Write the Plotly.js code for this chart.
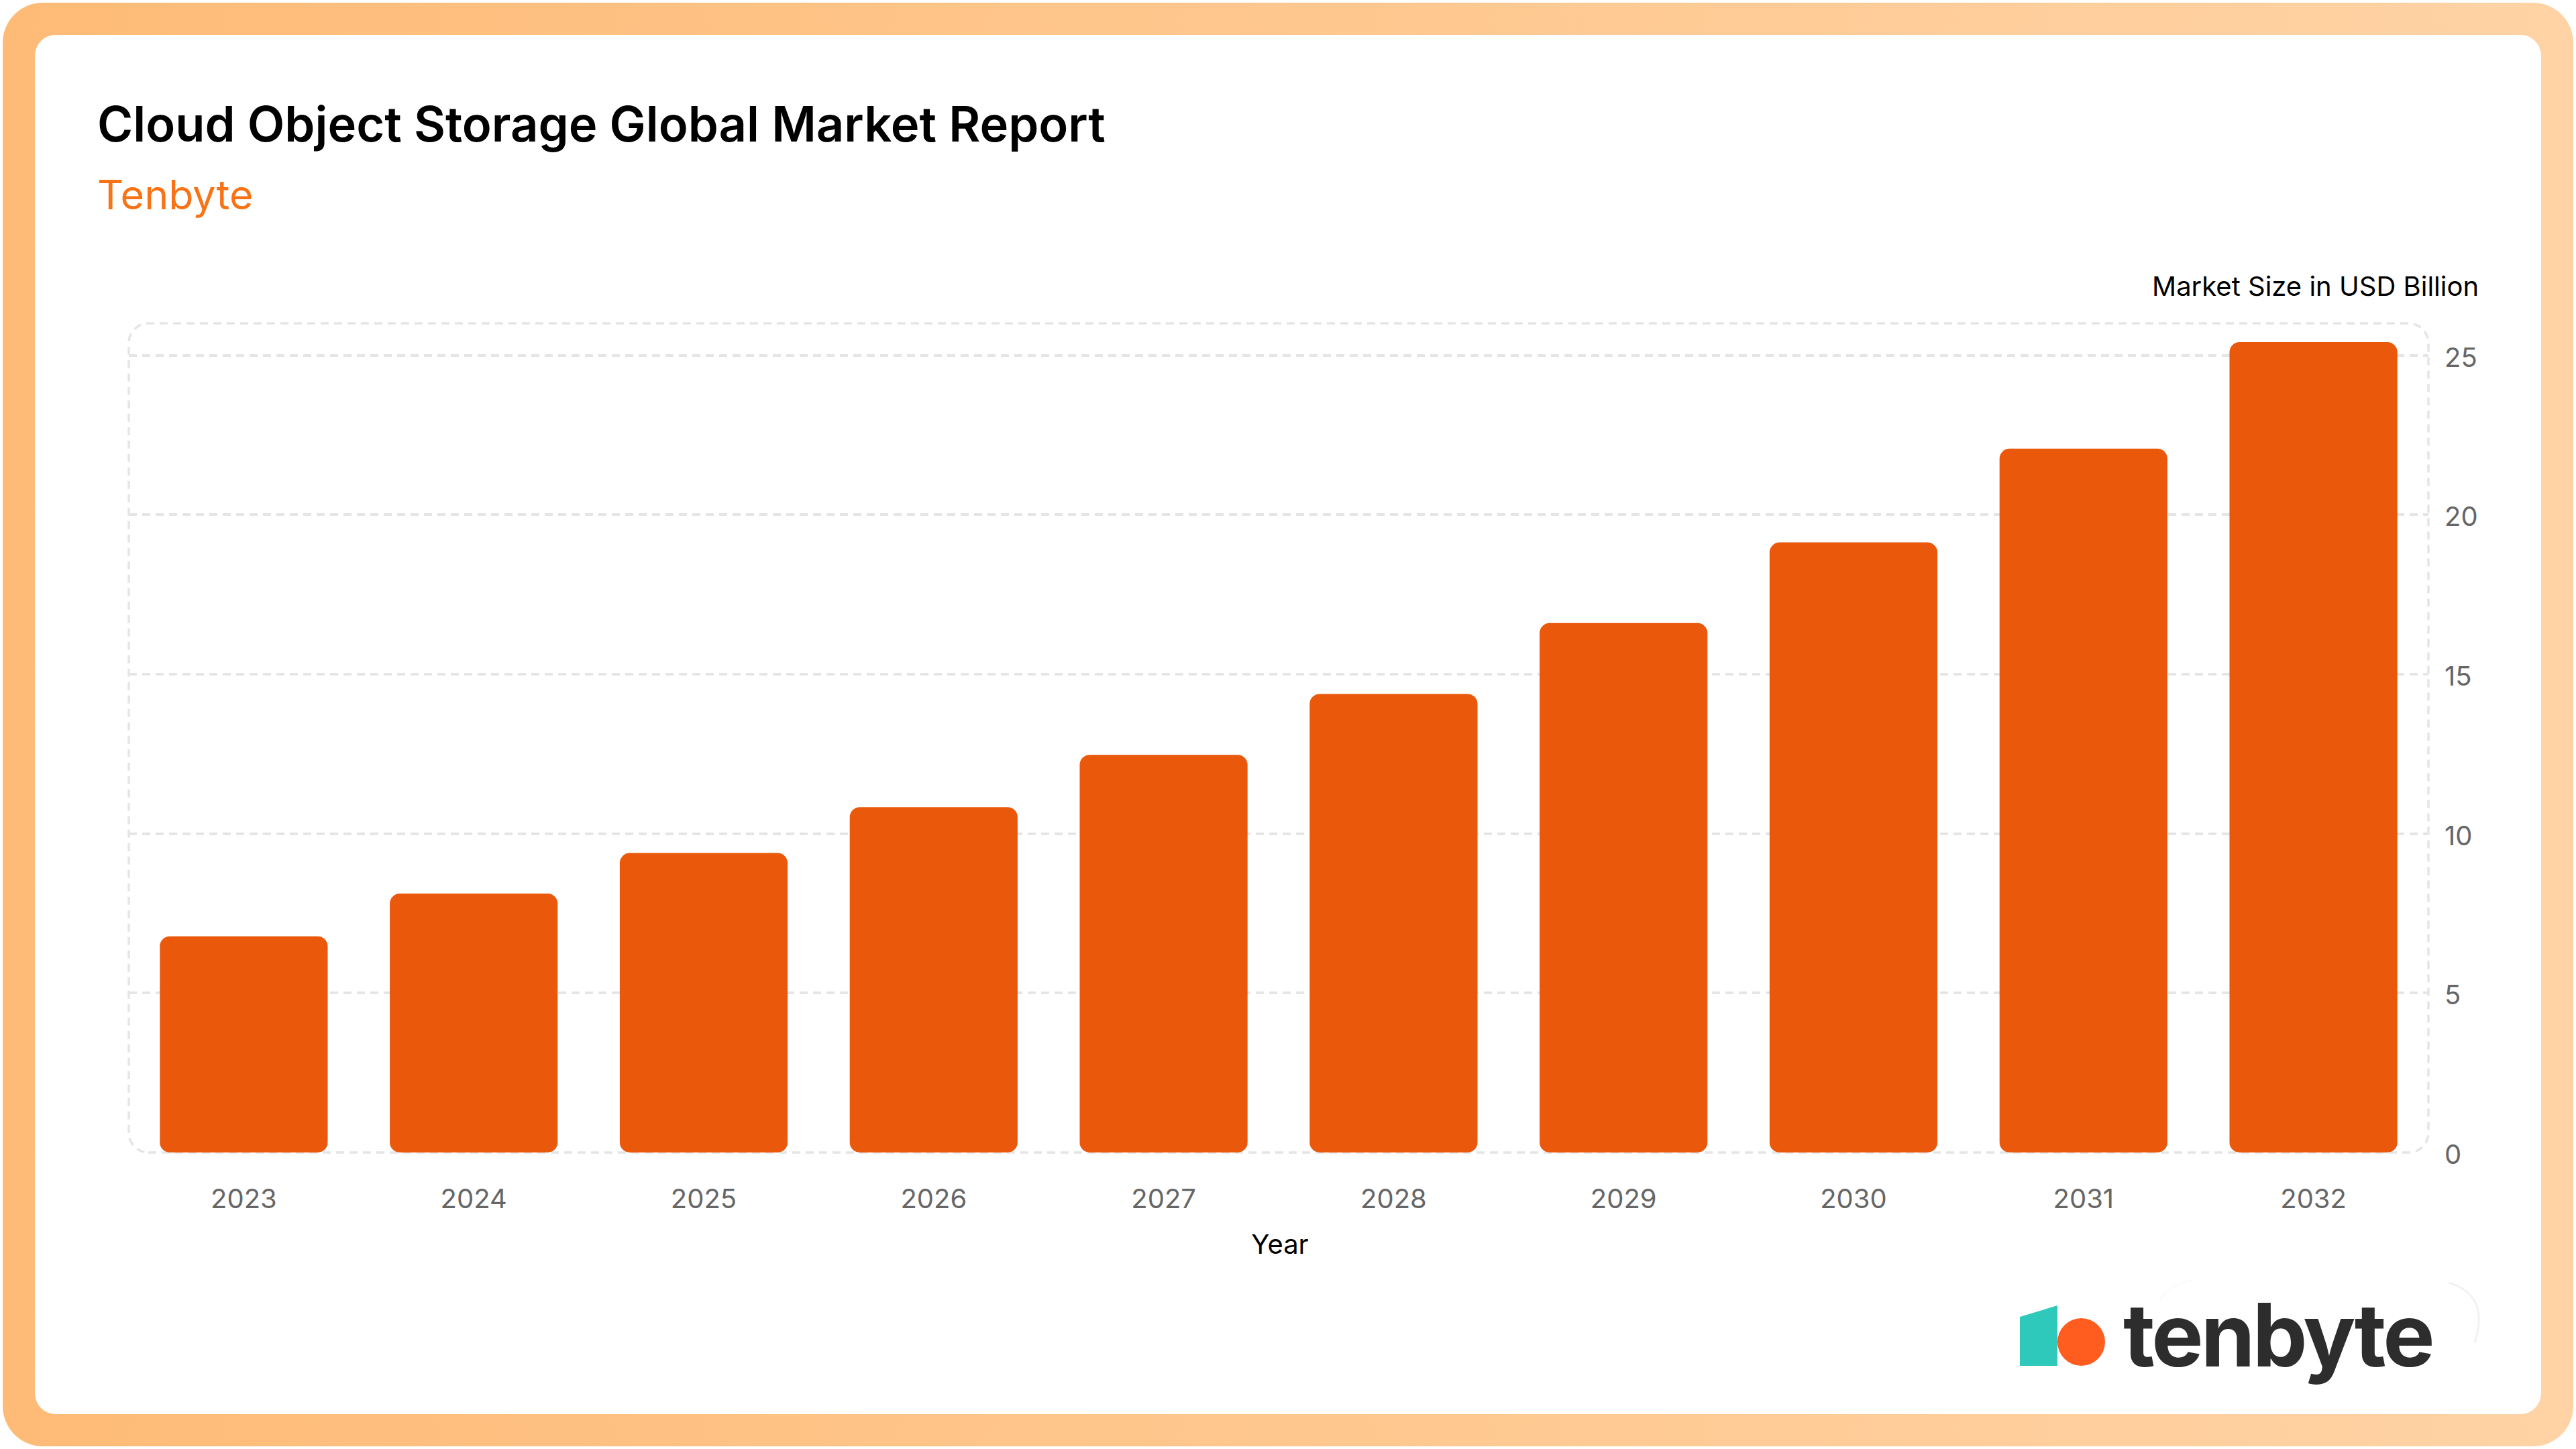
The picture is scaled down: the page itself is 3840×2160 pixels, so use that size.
<!DOCTYPE html>
<html><head><meta charset="utf-8">
<script src="https://cdn.plot.ly/plotly-3.0.1.min.js"></script>
<style>
html,body{margin:0;padding:0;background:#fff;width:3840px;height:2160px;overflow:hidden}
#frame{position:absolute;left:4px;top:4px;width:3832px;height:2152px;border-radius:60px;background:linear-gradient(90deg,#FEBB77,#FFD3A5)}
#card{position:absolute;left:52px;top:52px;width:3736px;height:2056px;border-radius:31px;background:#fff}
#chart{position:absolute;left:0;top:0;width:3840px;height:2160px}
.annotation[data-index="2"] text{letter-spacing:-4px}
.g-xtitle{transform:translateX(2px)}
</style></head><body>
<div id="frame"></div><div id="card"></div><div id="chart"></div>
<script>
const years = ['2023','2024','2025','2026','2027','2028','2029','2030','2031','2032'];
const marketSize = [6.78,8.12,9.39,10.83,12.47,14.38,16.6,19.13,22.07,25.41];
const yTicks = [0,5,10,15,20,25];
const titleText = 'Cloud Object Storage Global Market Report';
const subtitleText = 'Tenbyte';
const yTitleText = 'Market Size in USD Billion';
const xTitleText = 'Year';
const logoText = 'tenbyte';

const W=3840,H=2160,L=192,R=3620,T=482,B=1718;
const px=x=>(x-L)/(R-L), py=y=>(B-y)/(B-T);
const grid='#E5E5E5', dash='12px,8px', barColor='#EA580C', radius=15;
// A rounded frame around the plot, in paper coordinates
const rx=29/(R-L), ry=29/(B-T), kx=rx*0.45, ky=ry*0.45;
const framePath=`M ${rx} 0 L ${1-rx} 0 C ${1-kx} 0 1 ${ky} 1 ${ry} L 1 ${1-ry} C 1 ${1-ky} ${1-kx} 1 ${1-rx} 1 L ${rx} 1 C ${kx} 1 0 ${1-ky} 0 ${1-ry} L 0 ${ry} C 0 ${ky} ${kx} 0 ${rx} 0 Z`;

// An explicit base makes Plotly round both ends of each bar
const bars={type:'bar',x:years,y:marketSize,base:years.map(()=>0),
  marker:{color:barColor,cornerradius:radius,line:{width:0}},hoverinfo:'x+y',showlegend:false};

const shapes=[
  {type:'path',xref:'paper',yref:'paper',path:framePath,layer:'below',line:{color:grid,width:3.5,dash:dash}},
  ...years.map(y=>({type:'line',xref:'x',yref:'paper',x0:y,x1:y,y0:0,y1:-34/(B-T),layer:'below',line:{color:grid,width:3.5,dash:dash}})),
  // logo
  {type:'path',xref:'paper',yref:'paper',layer:'above',line:{width:0},fillcolor:'#2EC9BA',
   path:`M ${px(3011)} ${py(1963)} L ${px(3067)} ${py(1946)} L ${px(3067)} ${py(2036)} L ${px(3011)} ${py(2036)} Z`},
  {type:'circle',xref:'paper',yref:'paper',layer:'above',line:{width:0},fillcolor:'#FF5C20',
   x0:px(3067),x1:px(3138),y0:py(2036),y1:py(1965)},
  {type:'path',xref:'paper',yref:'paper',layer:'above',line:{color:'#F2F2F2',width:3},
   path:`M ${px(3650)} ${py(1912)} Q ${px(3712)} ${py(1930)} ${px(3689)} ${py(2002)}`},
  {type:'path',xref:'paper',yref:'paper',layer:'above',line:{color:'#FBFBFB',width:3},
   path:`M ${px(3267)} ${py(1909)} Q ${px(3230)} ${py(1915)} ${px(3219)} ${py(1941)}`},
];

const annotations=[
  {xref:'paper',yref:'paper',x:px(143),y:py(290),xanchor:'left',yanchor:'middle',text:subtitleText,showarrow:false,
   font:{family:'Inter',size:61,color:'#F97316'}},
  {xref:'paper',yref:'paper',x:px(3697),y:py(426),xanchor:'right',yanchor:'middle',text:yTitleText,showarrow:false,
   font:{family:'Inter',size:40,color:'#000'}},
  {xref:'paper',yref:'paper',x:px(3149),y:py(1989),xanchor:'left',yanchor:'middle',text:logoText,showarrow:false,
   font:{family:'Inter',size:130,weight:700,color:'#2D2D2D'}},
];

const layout={
  width:W,height:H,autosize:false,
  margin:{l:L,r:W-R,t:T,b:H-B,pad:0},
  paper_bgcolor:'rgba(0,0,0,0)',plot_bgcolor:'rgba(0,0,0,0)',
  font:{family:'Inter',color:'#666'},
  showlegend:false,bargap:0.27,
  title:{text:titleText,xref:'container',yref:'container',x:145/W,xanchor:'left',y:1-186/H,yanchor:'middle',
    font:{family:'Inter',size:72.3,weight:600,color:'#000'}},
  xaxis:{type:'category',range:[-0.5,9.5],showgrid:false,zeroline:false,showline:false,ticks:'outside',ticklen:34,tickcolor:'rgba(0,0,0,0)',
    tickfont:{family:'Inter',size:40,color:'#666'},
    title:{text:xTitleText,standoff:30,font:{family:'Inter',size:40,color:'#000'}},fixedrange:true},
  yaxis:{side:'right',range:[0,26],tickmode:'array',tickvals:yTicks,ticktext:yTicks.map(String),
    showgrid:true,gridcolor:grid,gridwidth:3.5,griddash:dash,zeroline:true,zerolinecolor:'rgba(0,0,0,0)',showline:false,
    ticks:'outside',ticklen:15,ticklabelshift:3,tickcolor:'rgba(0,0,0,0)',tickfont:{family:'Inter',size:40,color:'#666'},fixedrange:true},
  shapes,annotations
};
Plotly.newPlot('chart',[bars],layout,{displayModeBar:false,responsive:false});
</script></body></html>
